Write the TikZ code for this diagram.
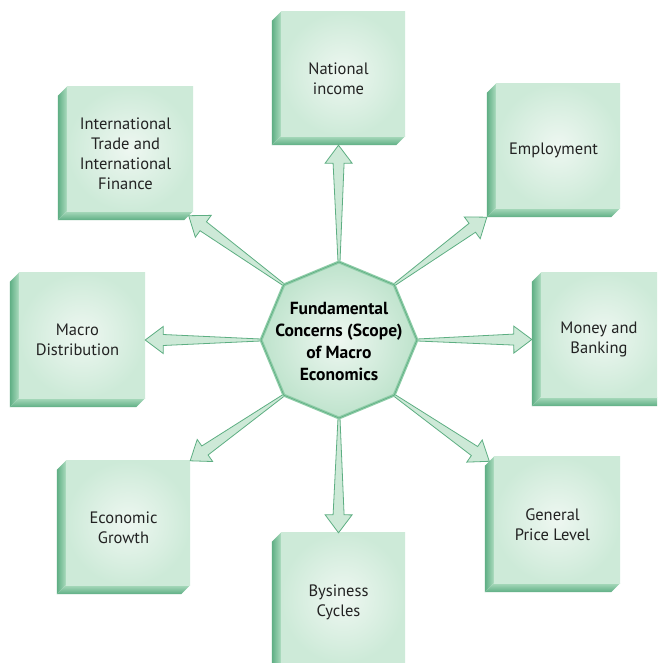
\documentclass[tikz,border=0pt]{standalone}
\usepackage{fontspec}
\setmainfont{PT Sans}
\usetikzlibrary{calc,shapes.geometric}
\definecolor{faceIn}{HTML}{EEF7F1}
\definecolor{faceOut}{HTML}{CDEAD8}
\definecolor{bevD}{HTML}{5EAE84}
\definecolor{bevL}{HTML}{A9DABC}
\definecolor{arrF}{HTML}{CDE9D7}
\definecolor{arrD}{HTML}{5DAE82}
\definecolor{octOut}{HTML}{BEE3CC}
\definecolor{octRim}{HTML}{8FCDA8}
\definecolor{txt}{HTML}{222222}
\tikzset{
  outerbox/.style={rectangle, draw=none, inner sep=0pt},
  boxtext/.style={align=center, text=txt, font=\fontsize{16.5}{20}\selectfont},
  cornertext/.style={align=center, text=black, font=\fontsize{17.5}{22}\selectfont\bfseries},
  fatarrowsty/.style={fill=arrF, draw=arrD, line width=0.8pt, line join=miter},
  octsty/.style={regular polygon, regular polygon sides=8, shape border rotate=22.5,
     minimum size=156pt, inner sep=0pt}
}
\newcommand\bevbox[6]{%
  \node[outerbox, minimum width={#4-#2}, minimum height={#5-#3}] (#1) at ({(#2+#4)/2},{(#3+#5)/2}) {};
  \shade[left color=bevD, right color=bevL]
     ($(#1.north west)+(0,9)$) -- ($(#1.north west)+(9,0)$) -- ($(#1.south west)+(9,-9)$) -- (#1.south west) -- cycle;
  \shade[top color=bevL, bottom color=bevD]
     (#1.south west) -- ($(#1.south west)+(9,-9)$) -- ($(#1.south east)+(0,-9)$) -- ($(#1.south east)+(-9,0)$) -- cycle;
  \shade[inner color=faceIn, outer color=faceOut]
     ($(#1.north west)+(9,0)$) rectangle ($(#1.south east)+(0,-9)$);
  \node[boxtext] (#1-t) at (#1.center) {#6};
}
\newcommand\fatarrow[2]{%
  \path ($(#2)!18pt!(#1)$) coordinate (hb);
  \filldraw[fatarrowsty] ($(#1)!1pt!90:(#2)$) -- ($(hb)!5.5pt!90:(#2)$) -- ($(hb)!13.5pt!90:(#2)$)
     -- (#2) -- ($(hb)!13.5pt!-90:(#2)$) -- ($(hb)!5.5pt!-90:(#2)$) -- ($(#1)!1pt!-90:(#2)$) -- cycle;
}
\begin{document}
\begin{tikzpicture}[x=1pt,y=-1pt]
\useasboundingbox (0,0) rectangle (657,663);
\clip (0,0) rectangle (657,663);
\fill[white] (0,0) rectangle (657,663);
% boxes
\bevbox{ni}{272}{12}{405}{145}{National\\income}
\bevbox{it}{58}{87}{193}{220}{International\\Trade and\\International\\Finance}
\bevbox{em}{487}{84}{620}{217}{Employment}
\bevbox{md}{10}{273}{145}{407}{Macro\\Distribution}
\bevbox{mb}{532}{273}{666}{406}{Money and\\Banking}
\bevbox{eg}{57}{461}{190}{594}{Economic\\Growth}
\bevbox{pl}{485}{457}{620}{592}{General\\Price Level}
\bevbox{bc}{272}{533}{405}{672}{Bysiness\\Cycles}
% centre (placeholder for anchors)
\node[octsty, draw=none] (oct) at (339,340) {};
% arrows
\fatarrow{oct.90}{ni.south}
\fatarrow{oct.180}{md.east}
\fatarrow{oct.0}{mb.west}
\fatarrow{oct.270}{bc.north}
\coordinate (itTip) at ($(it.south east)+(-4.5,-4.5)$);
\fatarrow{oct.135}{itTip}
\fatarrow{oct.45}{em.south west}
\coordinate (plTip) at ($(pl.north west)+(4.5,4.5)$);
\fatarrow{oct.-45}{plTip}
\fatarrow{oct.225}{eg.north east}
% centre octagon
\node[octsty, inner color=faceIn, outer color=octOut, draw=octRim, line width=3pt] (octv) at (oct.center) {};
\node[octsty, draw=arrD, line width=0.6pt] at (oct.center) {};
\node[cornertext] (ct) at ($(oct.center)+(0,1)$) {Fundamental\\Concerns (Scope)\\of Macro\\Economics};
\end{tikzpicture}
\end{document}
